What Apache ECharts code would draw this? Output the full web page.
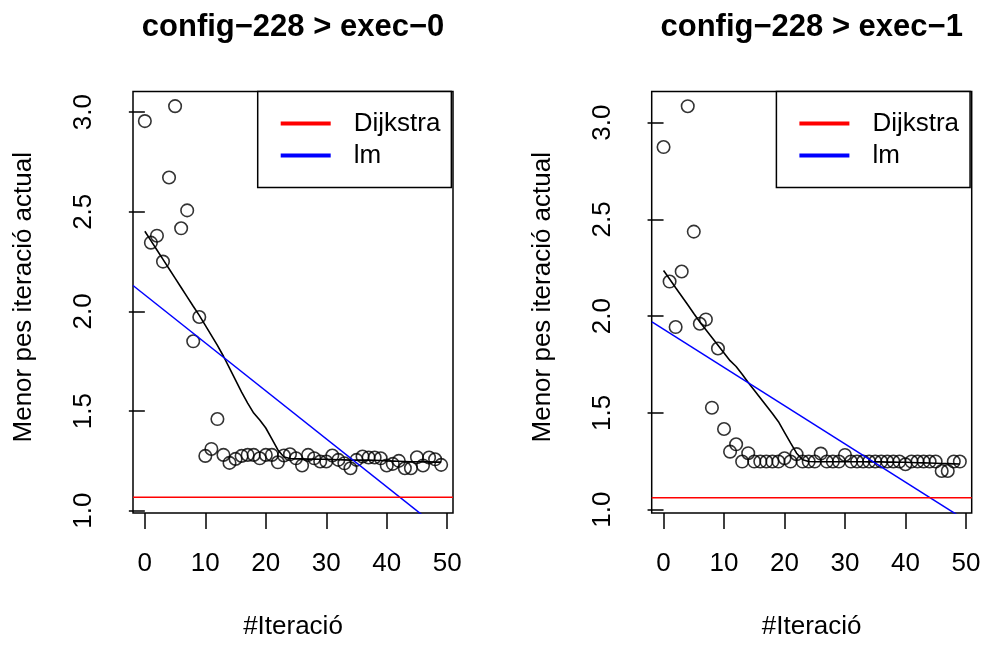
<!DOCTYPE html>
<html>
<head>
<meta charset="utf-8">
<script src="https://cdn.jsdelivr.net/npm/echarts@6/dist/echarts.min.js"></script>
<style>
  html, body { margin: 0; padding: 0; background: #fff; }
  #chart { width: 986px; height: 645px; }
</style>
</head>
<body>
<div id="chart"></div>
<script>
// valors llegits de la figura (dues execucions de config-228)
const iterations = [0, 1, 2, 3, 4, 5, 6, 7, 8, 9, 10, 11, 12, 13, 14, 15, 16, 17, 18, 19,
  20, 21, 22, 23, 24, 25, 26, 27, 28, 29, 30, 31, 32, 33, 34, 35, 36, 37, 38, 39,
  40, 41, 42, 43, 44, 45, 46, 47, 48, 49];
const xTicks = [0, 10, 20, 30, 40, 50];
const yTicks = [1.0, 1.5, 2.0, 2.5, 3.0];

const exec0Best = [2.955, 2.345, 2.38, 2.25, 2.672, 3.03, 2.417, 2.507, 1.85, 1.972,
  1.275, 1.31, 1.46, 1.28, 1.24, 1.26, 1.275, 1.28, 1.28, 1.263,
  1.28, 1.28, 1.243, 1.277, 1.283, 1.263, 1.227, 1.28, 1.263, 1.247,
  1.247, 1.277, 1.255, 1.238, 1.213, 1.255, 1.272, 1.267, 1.267, 1.263,
  1.227, 1.235, 1.25, 1.213, 1.213, 1.268, 1.227, 1.267, 1.258, 1.23];
const exec0Lowess = [2.402, 2.355, 2.308, 2.261, 2.214, 2.167, 2.12, 2.073, 2.026, 1.98,
  1.93, 1.88, 1.83, 1.775, 1.715, 1.655, 1.595, 1.54, 1.49, 1.455,
  1.415, 1.36, 1.305, 1.27, 1.262, 1.26, 1.26, 1.259, 1.259, 1.258,
  1.258, 1.257, 1.256, 1.255, 1.254, 1.254, 1.254, 1.254, 1.253, 1.252,
  1.25, 1.249, 1.248, 1.247, 1.246, 1.246, 1.245, 1.245, 1.244, 1.244];
const exec0LmEnds = [[-1.96, 2.13], [50.96, 0.856]];
const exec0Dijkstra = 1.067;

const exec1Best = [2.874, 2.179, 1.944, 2.231, 3.085, 2.437, 1.961, 1.983, 1.527, 1.833,
  1.417, 1.30, 1.338, 1.249, 1.292, 1.249, 1.249, 1.249, 1.249, 1.249,
  1.266, 1.249, 1.287, 1.249, 1.249, 1.249, 1.29, 1.249, 1.249, 1.249,
  1.283, 1.249, 1.249, 1.249, 1.249, 1.249, 1.249, 1.249, 1.249, 1.249,
  1.235, 1.249, 1.249, 1.249, 1.249, 1.249, 1.2, 1.2, 1.249, 1.249];
const exec1Lowess = [2.236, 2.192, 2.147, 2.103, 2.059, 2.014, 1.97, 1.93, 1.89, 1.85,
  1.81, 1.77, 1.74, 1.70, 1.657, 1.617, 1.577, 1.537, 1.497, 1.455,
  1.40, 1.345, 1.292, 1.258, 1.249, 1.248, 1.248, 1.248, 1.248, 1.248,
  1.248, 1.248, 1.248, 1.248, 1.247, 1.247, 1.247, 1.246, 1.246, 1.245,
  1.245, 1.244, 1.243, 1.242, 1.241, 1.24, 1.239, 1.238, 1.237, 1.236];
const exec1LmEnds = [[-1.92, 1.97], [50.96, 0.926]];
const exec1Dijkstra = 1.062;

const FONT = '"Liberation Sans", Arial, Helvetica, sans-serif';
const X_RANGE = [-1.96, 50.96];

const panels = [
  { title: 'config\u2212228 > exec\u22120', best: exec0Best, smooth: exec0Lowess,
    lm: exec0LmEnds, dijkstra: exec0Dijkstra, yRange: [0.9885, 3.1035], left: 133 },
  { title: 'config\u2212228 > exec\u22121', best: exec1Best, smooth: exec1Lowess,
    lm: exec1LmEnds, dijkstra: exec1Dijkstra, yRange: [0.983, 3.161], left: 651.7 }
];
const PLOT_W = 320, PLOT_TOP = 91.5, PLOT_H = 423.5;

const zip = (xs, ys) => xs.map((x, i) => [x, ys[i]]);
const txt = (size, extra) => Object.assign({ fontSize: size, color: '#000', fontFamily: FONT }, extra || {});

const option = {
  backgroundColor: '#ffffff',
  animation: false,
  title: panels.map(p => ({
    text: p.title, left: p.left + PLOT_W / 2, top: 12, textAlign: 'center', padding: 0,
    textStyle: txt(31, { fontWeight: 'bold' })
  })),
  grid: panels.map(p => ({
    left: p.left, top: PLOT_TOP, width: PLOT_W, height: PLOT_H,
    show: true, borderColor: '#000', borderWidth: 1.5, backgroundColor: 'transparent'
  })),
  legend: panels.map(p => ({
    data: ['Dijkstra', 'lm'], orient: 'vertical', selectedMode: false,
    left: p.left + 124.7, top: PLOT_TOP,
    padding: [19, 11, 19, 23], itemGap: 6, itemWidth: 50, itemHeight: 4, icon: 'rect',
    borderColor: '#000', borderWidth: 1.5, backgroundColor: '#fff',
    textStyle: txt(26, { lineHeight: 26, padding: [0, 0, 0, 18] })
  })),
  xAxis: panels.map((p, i) => ({
    gridIndex: i, type: 'value', min: X_RANGE[0], max: X_RANGE[1],
    name: '#Iteraci\u00f3', nameLocation: 'middle', nameGap: 101, nameTextStyle: txt(26),
    axisLine: { show: false }, splitLine: { show: false },
    axisTick: { show: true, length: 16, customValues: xTicks, lineStyle: { color: '#000', width: 1.5 } },
    axisLabel: { customValues: xTicks, margin: 38, ...txt(26) }
  })),
  yAxis: panels.map((p, i) => ({
    gridIndex: i, type: 'value', min: p.yRange[0], max: p.yRange[1],
    name: 'Menor pes iteraci\u00f3 actual', nameLocation: 'middle', nameGap: 96,
    nameTextStyle: txt(26, { padding: [0, 0, 0, 10] }),
    axisLine: { show: false }, splitLine: { show: false },
    axisTick: { show: true, length: 16, customValues: yTicks, lineStyle: { color: '#000', width: 1.5 } },
    axisLabel: { customValues: yTicks, rotate: 90, margin: 36, formatter: v => v.toFixed(1), ...txt(26) }
  })),
  series: []
};

panels.forEach((p, i) => {
  option.series.push(
    {
      type: 'scatter', xAxisIndex: i, yAxisIndex: i, silent: true, z: 2,
      data: zip(iterations, p.best), symbol: 'circle', symbolSize: 12.5,
      itemStyle: { color: 'rgba(0,0,0,0)', borderColor: '#000', borderWidth: 1.6 }
    },
    {
      type: 'line', xAxisIndex: i, yAxisIndex: i, silent: true, z: 3, showSymbol: false,
      data: zip(iterations, p.smooth), lineStyle: { color: '#000', width: 1.6 }
    },
    {
      name: 'lm', type: 'line', xAxisIndex: i, yAxisIndex: i, silent: true, z: 4, clip: true,
      showSymbol: false, data: p.lm, color: '#0000ff', lineStyle: { color: '#0000ff', width: 1.5 }
    },
    {
      name: 'Dijkstra', type: 'line', xAxisIndex: i, yAxisIndex: i, silent: true, z: 4, clip: true,
      showSymbol: false, data: [[X_RANGE[0], p.dijkstra], [X_RANGE[1], p.dijkstra]],
      color: '#ff0000', lineStyle: { color: '#ff0000', width: 1.5 }
    }
  );
});

const chart = echarts.init(document.getElementById('chart'), null, { renderer: 'canvas' });
chart.setOption(option);
</script>
</body>
</html>
